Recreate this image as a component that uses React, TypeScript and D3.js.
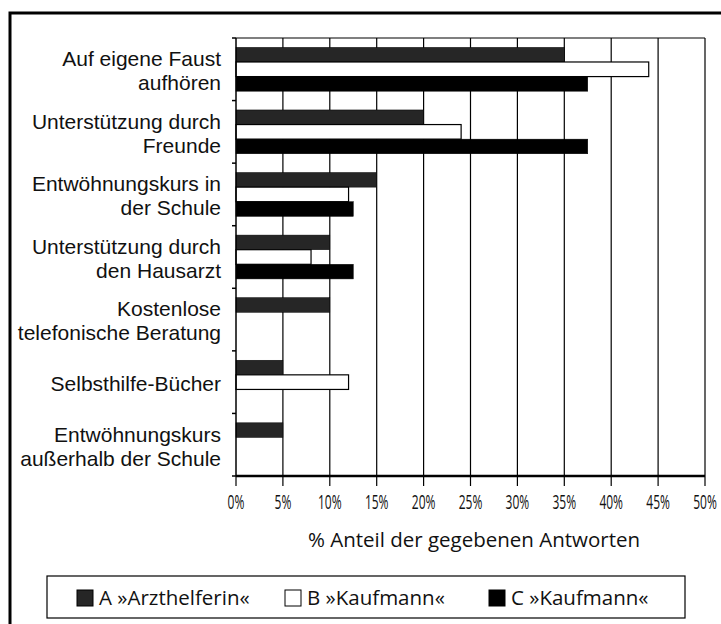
import React from "react";
import * as d3 from "d3";

const categories = [
  ["Auf eigene Faust", "aufhören"],
  ["Unterstützung durch", "Freunde"],
  ["Entwöhnungskurs in", "der Schule"],
  ["Unterstützung durch", "den Hausarzt"],
  ["Kostenlose", "telefonische Beratung"],
  ["Selbsthilfe-Bücher"],
  ["Entwöhnungskurs", "außerhalb der Schule"],
];
const seriesNames = ["A »Arzthelferin«", "B »Kaufmann«", "C »Kaufmann«"];
const valuesA = [35, 20, 15, 10, 10, 5, 5];
const valuesB = [44, 24, 12, 8, 0, 12, 0];
const valuesC = [37.5, 37.5, 12.5, 12.5, 0, 0, 0];
const ticks = [0, 5, 10, 15, 20, 25, 30, 35, 40, 45, 50];

const W = 721;
const H = 624;
const left = 236;
const right = 705;
const top = 38;
const bottom = 476;
const font = "'Open Sans', 'Noto Sans', sans-serif";
const labelFont = "'Liberation Sans', Arial, sans-serif";

const fills = ["#262626", "#ffffff", "#000000"];

export default function App() {
  const x = d3.scaleLinear().domain([0, 50]).range([left, right]);
  const y = d3
    .scaleBand<number>()
    .domain(d3.range(categories.length))
    .range([top, bottom])
    .paddingInner(0.3)
    .paddingOuter(0.15);
  const sub = d3
    .scaleBand<number>()
    .domain([0, 1, 2])
    .range([0, y.bandwidth()]);
  const step = (bottom - top) / categories.length;
  const series = [valuesA, valuesB, valuesC];

  return (
    <svg
      width={W}
      height={H}
      style={{ position: "absolute", left: 0, top: 0, background: "#fff" }}
      fontFamily={font}
    >
      {/* frame */}
      <rect x={10} y={13} width={730} height={640} fill="none" stroke="#000" strokeWidth={3} />

      {/* grid */}
      <line x1={left} x2={right} y1={top} y2={top} stroke="#000" strokeWidth={1.2} />
      {ticks.slice(1).map((t) => (
        <line key={t} x1={x(t)} x2={x(t)} y1={top} y2={bottom} stroke="#000" strokeWidth={1.2} />
      ))}

      {/* bars */}
      {categories.map((c, i) =>
        series.map((vals, s) =>
          vals[i] > 0 ? (
            <rect
              key={`${i}-${s}`}
              x={x(0)}
              y={(y(i) as number) + (sub(s) as number)}
              width={x(vals[i]) - x(0)}
              height={sub.bandwidth()}
              fill={fills[s]}
              stroke="#000"
              strokeWidth={s === 1 ? 1.2 : 0.5}
            />
          ) : null
        )
      )}

      {/* y axis */}
      <line x1={left} x2={left} y1={top} y2={bottom} stroke="#000" strokeWidth={1.5} />
      {d3.range(categories.length + 1).map((k) => (
        <line
          key={k}
          x1={left - 4}
          x2={left}
          y1={top + k * step}
          y2={top + k * step}
          stroke="#000"
          strokeWidth={1.5}
        />
      ))}
      {categories.map((lines, i) => {
        const cy = (y(i) as number) + y.bandwidth() / 2 + 1.5;
        const lh = 24;
        const start = cy - ((lines.length - 1) * lh) / 2;
        return lines.map((l, j) => (
          <text
            key={`${i}-${j}`}
            x={221}
            y={start + j * lh}
            dy="0.35em"
            textAnchor="end"
            fontSize={21}
            fontFamily={labelFont}
            fill="#111"
          >
            {l}
          </text>
        ));
      })}

      {/* x axis */}
      <line x1={left} x2={right} y1={bottom} y2={bottom} stroke="#000" strokeWidth={2.5} />
      {ticks.map((t) => (
        <g key={t}>
          <line x1={x(t)} x2={x(t)} y1={bottom} y2={bottom + 10} stroke="#000" strokeWidth={1.2} />
          <text
            transform={`translate(${x(t)},502) scale(0.6,1)`}
            dy="0.35em"
            textAnchor="middle"
            fontSize={20}
            fill="#111"
          >
            {t}%
          </text>
        </g>
      ))}
      <text x={474} y={540} dy="0.35em" textAnchor="middle" fontSize={20.5} fill="#111">
        % Anteil der gegebenen Antworten
      </text>

      {/* legend */}
      <rect x={47} y={576} width={638} height={42} fill="#fff" stroke="#000" strokeWidth={1.2} />
      {seriesNames.map((n, s) => {
        const lx = [77, 285, 489][s];
        return (
          <g key={n}>
            <rect x={lx} y={590} width={16} height={16} fill={fills[s]} stroke="#000" strokeWidth={1} />
            <text x={lx + 22} y={598} dy="0.35em" fontSize={20.5} fill="#111">
              {n}
            </text>
          </g>
        );
      })}
    </svg>
  );
}
